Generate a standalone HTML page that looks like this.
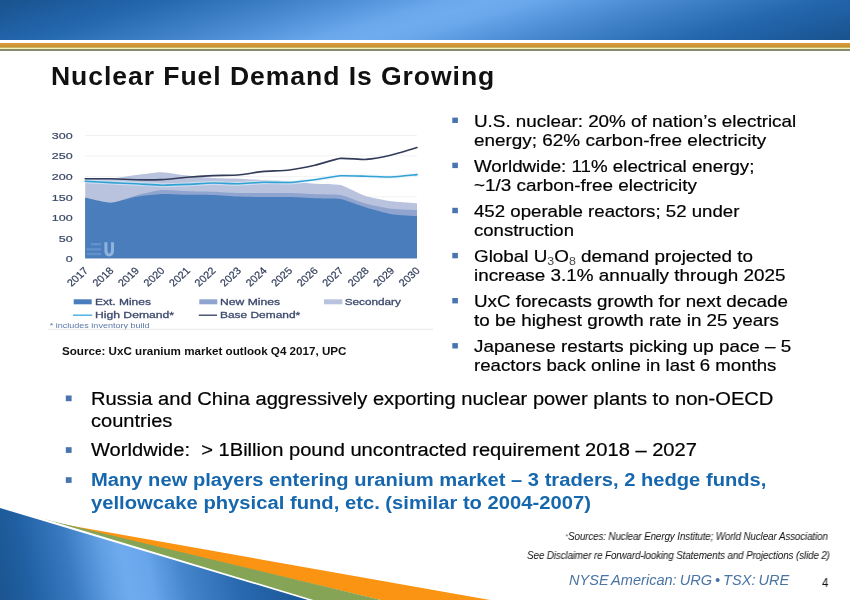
<!DOCTYPE html>
<html><head><meta charset="utf-8">
<style>
html,body{margin:0;padding:0;}
body{width:850px;height:600px;position:relative;overflow:hidden;background:#fff;font-family:"Liberation Sans",sans-serif;color:#111;}
.abs{position:absolute;white-space:nowrap;}
.t{transform-origin:0 0;will-change:transform;}
#hdr{left:0;top:0;width:850px;height:40px;background:linear-gradient(163.5deg,#19528d 0%,#1e5c9e 8%,#2468ae 17%,#4a8bd2 34%,#69a6ea 45%,#6fabef 50%,#69a6ea 55%,#4a8bd2 66%,#2468ae 83%,#1e5c9e 92%,#19528d 100%);}
#gold{left:0;top:39px;width:850px;height:13px;background:linear-gradient(to bottom,rgba(255,255,255,0) 0,rgba(255,255,255,0) 0.5px,#fff 0.6px,#fff 4px,#d99a3c 4.4px,#d09130 7px,#b8963c 8.4px,#f7f2b8 8.7px,#f7f2b8 10.3px,#86896a 10.5px,#86896a 11.7px,#fff 11.9px);}
.bq{position:absolute;background:#4f7cb8;}
sub{font-size:66%;vertical-align:baseline;position:relative;top:3px;color:#4a4a4a;-webkit-text-stroke:0;}
</style></head><body>
<div id="hdr" class="abs"></div>
<div id="gold" class="abs"></div>

<div id="title" class="abs t" style="left:51.0px;top:60.6px;font-size:25.2px;font-weight:bold;line-height:30px;letter-spacing:0.9px;transform:scaleX(1.0534);">Nuclear Fuel Demand Is Growing</div>
<div id="r1" class="abs t" style="left:474.1px;top:111.7px;font-size:17px;line-height:19px;color:#000;-webkit-text-stroke:0.2px #000;transform:scaleX(1.1082);">U.S. nuclear: 20% of nation’s electrical</div>
<div id="r2" class="abs t" style="left:474.1px;top:130.7px;font-size:17px;line-height:19px;color:#000;-webkit-text-stroke:0.2px #000;transform:scaleX(1.1123);">energy; 62% carbon-free electricity</div>
<div id="r3" class="abs t" style="left:474.1px;top:156.8px;font-size:17px;line-height:19px;color:#000;-webkit-text-stroke:0.2px #000;transform:scaleX(1.1018);">Worldwide: 11% electrical energy;</div>
<div id="r4" class="abs t" style="left:474.1px;top:175.8px;font-size:17px;line-height:19px;color:#000;-webkit-text-stroke:0.2px #000;transform:scaleX(1.1101);">~1/3 carbon-free electricity</div>
<div id="r5" class="abs t" style="left:474.1px;top:201.9px;font-size:17px;line-height:19px;color:#000;-webkit-text-stroke:0.2px #000;transform:scaleX(1.0969);">452 operable reactors; 52 under</div>
<div id="r6" class="abs t" style="left:474.1px;top:220.9px;font-size:17px;line-height:19px;color:#000;-webkit-text-stroke:0.2px #000;transform:scaleX(1.0908);">construction</div>
<div id="r7" class="abs t" style="left:474.1px;top:247.0px;font-size:17px;line-height:19px;color:#000;-webkit-text-stroke:0.2px #000;transform:scaleX(1.1085);">Global U<sub>3</sub>O<sub>8</sub> demand projected to</div>
<div id="r8" class="abs t" style="left:474.1px;top:266.0px;font-size:17px;line-height:19px;color:#000;-webkit-text-stroke:0.2px #000;transform:scaleX(1.1094);">increase 3.1% annually through 2025</div>
<div id="r9" class="abs t" style="left:474.1px;top:292.1px;font-size:17px;line-height:19px;color:#000;-webkit-text-stroke:0.2px #000;transform:scaleX(1.1036);">UxC forecasts growth for next decade</div>
<div id="r10" class="abs t" style="left:474.1px;top:311.1px;font-size:17px;line-height:19px;color:#000;-webkit-text-stroke:0.2px #000;transform:scaleX(1.1087);">to be highest growth rate in 25 years</div>
<div id="r11" class="abs t" style="left:474.1px;top:337.2px;font-size:17px;line-height:19px;color:#000;-webkit-text-stroke:0.2px #000;transform:scaleX(1.1078);">Japanese restarts picking up pace – 5</div>
<div id="r12" class="abs t" style="left:474.1px;top:356.2px;font-size:17px;line-height:19px;color:#000;-webkit-text-stroke:0.2px #000;transform:scaleX(1.0960);">reactors back online in last 6 months</div>
<div id="b1" class="abs t" style="left:90.6px;top:387.6px;font-size:18px;line-height:22px;color:#000;-webkit-text-stroke:0.2px #000;transform:scaleX(1.1181);">Russia and China aggressively exporting nuclear power plants to non-OECD</div>
<div id="b2" class="abs t" style="left:90.6px;top:409.9px;font-size:18px;line-height:22px;color:#000;-webkit-text-stroke:0.2px #000;transform:scaleX(1.1144);">countries</div>
<div id="b3" class="abs t" style="left:90.6px;top:439px;font-size:18px;line-height:22px;color:#000;-webkit-text-stroke:0.2px #000;transform:scaleX(1.1168);">Worldwide:&nbsp; &gt; 1Billion pound uncontracted requirement 2018 – 2027</div>
<div id="b4" class="abs t" style="left:90.6px;top:469px;font-size:18px;line-height:22px;color:#1667ad;font-weight:bold;transform:scaleX(1.1197);">Many new players entering uranium market – 3 traders, 2 hedge funds,</div>
<div id="b5" class="abs t" style="left:90.6px;top:492px;font-size:18px;line-height:22px;color:#1667ad;font-weight:bold;transform:scaleX(1.1231);">yellowcake physical fund, etc. (similar to 2004-2007)</div>
<div id="src" class="abs t" style="left:62px;top:345.0px;font-size:11.4px;font-weight:bold;line-height:13px;transform:scaleX(1.0215);">Source: UxC uranium market outlook Q4 2017, UPC</div>
<div id="f1" class="abs t" style="left:565.2px;top:530.5px;font-size:10px;font-style:italic;line-height:12px;letter-spacing:-0.15px;transform:scaleX(0.9902);"><span style="color:#777;font-size:8px;position:relative;top:-1px">*</span>Sources: Nuclear Energy Institute; World Nuclear Association</div>
<div id="f2" class="abs t" style="left:527.2px;top:549.7px;font-size:10px;font-style:italic;line-height:12px;letter-spacing:-0.15px;transform:scaleX(0.9885);">See Disclaimer re Forward-looking Statements and Projections (slide 2)</div>
<div id="f3" class="abs t" style="left:568.6px;top:571.6px;font-size:13.8px;font-style:italic;line-height:18px;color:#4a74a4;word-spacing:-1px;transform:scaleX(1.0555);">NYSE American: URG • TSX: URE</div>
<div id="f4" class="abs t" style="left:822px;top:574.6px;font-size:13px;line-height:15px;transform:scaleX(0.8847);">4</div>
<svg class="abs" style="left:0;top:0" width="850" height="600" viewBox="0 0 850 600">
<rect x="452.3" y="117.6" width="5.6" height="5.4" fill="#4875b0"/>
<rect x="452.3" y="162.7" width="5.6" height="5.4" fill="#4875b0"/>
<rect x="452.3" y="207.8" width="5.6" height="5.4" fill="#4875b0"/>
<rect x="452.3" y="252.9" width="5.6" height="5.4" fill="#4875b0"/>
<rect x="452.3" y="298.0" width="5.6" height="5.4" fill="#4875b0"/>
<rect x="452.3" y="343.1" width="5.6" height="5.4" fill="#4875b0"/>
<rect x="65.8" y="395.5" width="5.8" height="5.7" fill="#4875b0"/>
<rect x="65.8" y="447.2" width="5.8" height="5.7" fill="#4875b0"/>
<rect x="65.8" y="477.2" width="5.8" height="5.7" fill="#4875b0"/>
</svg>
<svg class="abs" id="chart" style="left:40px;top:115px;will-change:transform;filter:blur(0.45px)" width="400" height="220" viewBox="40 115 400 220" font-family="Liberation Sans, sans-serif">
<line x1="85" x2="417" y1="258.2" y2="258.2" stroke="#f2f2f2" stroke-width="1"/>
<line x1="85" x2="417" y1="237.8" y2="237.8" stroke="#f2f2f2" stroke-width="1"/>
<line x1="85" x2="417" y1="217.3" y2="217.3" stroke="#f2f2f2" stroke-width="1"/>
<line x1="85" x2="417" y1="196.8" y2="196.8" stroke="#f2f2f2" stroke-width="1"/>
<line x1="85" x2="417" y1="176.4" y2="176.4" stroke="#f2f2f2" stroke-width="1"/>
<line x1="85" x2="417" y1="155.9" y2="155.9" stroke="#f2f2f2" stroke-width="1"/>
<line x1="85" x2="417" y1="135.5" y2="135.5" stroke="#f2f2f2" stroke-width="1"/>
<path d="M85.2,258.2 L85.2,178.2 C87.5,178.2 106.1,178.9 110.7,178.6 C115.3,178.3 131.7,175.6 136.2,175.0 C140.8,174.4 157.2,172.1 161.8,172.2 C166.4,172.3 182.7,175.1 187.3,175.6 C191.9,176.1 208.2,177.7 212.8,178.0 C217.4,178.3 233.7,178.5 238.3,178.7 C242.9,178.9 259.3,179.8 263.9,180.0 C268.5,180.2 284.8,180.9 289.4,181.2 C294.0,181.5 310.3,183.4 314.9,183.7 C319.5,184.0 335.8,183.9 340.4,185.0 C345.0,186.1 361.4,194.7 366.0,196.2 C370.5,197.7 386.9,200.6 391.5,201.2 C396.1,201.8 414.7,203.0 417.0,203.2 L417.0,258.2 Z" fill="#b9c3dd"/>
<path d="M85.2,258.2 L85.2,197.8 C87.5,198.2 106.1,203.0 110.7,202.8 C115.3,202.6 131.7,196.5 136.2,195.4 C140.8,194.3 157.2,190.5 161.8,190.1 C166.4,189.7 182.7,191.1 187.3,191.2 C191.9,191.3 208.2,191.5 212.8,191.7 C217.4,191.9 233.7,192.9 238.3,193.0 C242.9,193.1 259.3,193.0 263.9,193.0 C268.5,193.0 284.8,192.9 289.4,193.0 C294.0,193.1 310.3,194.0 314.9,194.2 C319.5,194.4 335.8,194.1 340.4,195.0 C345.0,195.9 361.4,202.5 366.0,203.7 C370.5,204.9 386.9,208.1 391.5,208.7 C396.1,209.3 414.7,209.9 417.0,210.0 L417.0,258.2 Z" fill="#8fa4cf"/>
<path d="M85.2,258.2 L85.2,197.8 C87.5,198.2 106.1,202.9 110.7,202.8 C115.3,202.7 131.7,197.6 136.2,196.8 C140.8,196.0 157.2,194.2 161.8,194.0 C166.4,193.8 182.7,194.7 187.3,194.8 C191.9,194.9 208.2,194.8 212.8,195.0 C217.4,195.2 233.7,196.3 238.3,196.5 C242.9,196.7 259.3,197.0 263.9,197.0 C268.5,197.0 284.8,196.9 289.4,197.0 C294.0,197.1 310.3,198.0 314.9,198.2 C319.5,198.4 335.8,198.2 340.4,199.0 C345.0,199.8 361.4,206.1 366.0,207.5 C370.5,208.9 386.9,213.5 391.5,214.3 C396.1,215.1 414.7,216.0 417.0,216.2 L417.0,258.2 Z" fill="#4a7dbc"/>
<path d="M85.2,181.2 C87.5,181.3 106.1,182.4 110.7,182.6 C115.3,182.8 131.7,183.6 136.2,183.8 C140.8,184.0 157.2,185.1 161.8,185.2 C166.4,185.3 182.7,184.6 187.3,184.4 C191.9,184.2 208.2,183.1 212.8,183.0 C217.4,182.9 233.7,183.9 238.3,183.8 C242.9,183.7 259.3,182.3 263.9,182.2 C268.5,182.1 284.8,182.7 289.4,182.5 C294.0,182.3 310.3,180.4 314.9,179.8 C319.5,179.2 335.8,176.1 340.4,175.8 C345.0,175.5 361.4,176.1 366.0,176.2 C370.5,176.3 386.9,177.1 391.5,177.0 C396.1,176.9 414.7,174.8 417.0,174.6" fill="none" stroke="rgba(225,240,252,0.55)" stroke-width="4" stroke-linejoin="round" stroke-linecap="round"/>
<path d="M85.2,181.2 C87.5,181.3 106.1,182.4 110.7,182.6 C115.3,182.8 131.7,183.6 136.2,183.8 C140.8,184.0 157.2,185.1 161.8,185.2 C166.4,185.3 182.7,184.6 187.3,184.4 C191.9,184.2 208.2,183.1 212.8,183.0 C217.4,182.9 233.7,183.9 238.3,183.8 C242.9,183.7 259.3,182.3 263.9,182.2 C268.5,182.1 284.8,182.7 289.4,182.5 C294.0,182.3 310.3,180.4 314.9,179.8 C319.5,179.2 335.8,176.1 340.4,175.8 C345.0,175.5 361.4,176.1 366.0,176.2 C370.5,176.3 386.9,177.1 391.5,177.0 C396.1,176.9 414.7,174.8 417.0,174.6" fill="none" stroke="#30a2d4" stroke-width="1.6" stroke-linejoin="round" stroke-linecap="round"/>
<path d="M85.2,178.7 C87.5,178.7 106.1,178.7 110.7,178.8 C115.3,178.9 131.7,179.7 136.2,179.8 C140.8,179.9 157.2,179.8 161.8,179.6 C166.4,179.4 182.7,177.6 187.3,177.2 C191.9,176.8 208.2,175.8 212.8,175.6 C217.4,175.4 233.7,175.4 238.3,175.0 C242.9,174.6 259.3,171.8 263.9,171.4 C268.5,171.0 284.8,170.6 289.4,170.0 C294.0,169.4 310.3,166.2 314.9,165.2 C319.5,164.2 335.8,158.9 340.4,158.4 C345.0,157.9 361.4,159.7 366.0,159.4 C370.5,159.1 386.9,156.1 391.5,155.0 C396.1,153.9 414.7,148.3 417.0,147.6" fill="none" stroke="#323c58" stroke-width="1.6" stroke-linejoin="round" stroke-linecap="round"/>
<text transform="translate(72.6,262.3) scale(1.36,1)" text-anchor="end" font-size="9.2" fill="#3b4865" stroke="#3b4865" stroke-width="0.2">0</text>
<text transform="translate(72.6,241.7) scale(1.36,1)" text-anchor="end" font-size="9.2" fill="#3b4865" stroke="#3b4865" stroke-width="0.2">50</text>
<text transform="translate(72.6,221.1) scale(1.36,1)" text-anchor="end" font-size="9.2" fill="#3b4865" stroke="#3b4865" stroke-width="0.2">100</text>
<text transform="translate(72.6,200.6) scale(1.36,1)" text-anchor="end" font-size="9.2" fill="#3b4865" stroke="#3b4865" stroke-width="0.2">150</text>
<text transform="translate(72.6,180.0) scale(1.36,1)" text-anchor="end" font-size="9.2" fill="#3b4865" stroke="#3b4865" stroke-width="0.2">200</text>
<text transform="translate(72.6,159.4) scale(1.36,1)" text-anchor="end" font-size="9.2" fill="#3b4865" stroke="#3b4865" stroke-width="0.2">250</text>
<text transform="translate(72.6,138.8) scale(1.36,1)" text-anchor="end" font-size="9.2" fill="#3b4865" stroke="#3b4865" stroke-width="0.2">300</text>
<text transform="translate(88.8,271.4) scale(1.1,1) rotate(-45)" text-anchor="end" font-size="10" fill="#333f5c" stroke="#333f5c" stroke-width="0.2">2017</text>
<text transform="translate(114.3,271.4) scale(1.1,1) rotate(-45)" text-anchor="end" font-size="10" fill="#333f5c" stroke="#333f5c" stroke-width="0.2">2018</text>
<text transform="translate(139.8,271.4) scale(1.1,1) rotate(-45)" text-anchor="end" font-size="10" fill="#333f5c" stroke="#333f5c" stroke-width="0.2">2019</text>
<text transform="translate(165.4,271.4) scale(1.1,1) rotate(-45)" text-anchor="end" font-size="10" fill="#333f5c" stroke="#333f5c" stroke-width="0.2">2020</text>
<text transform="translate(190.9,271.4) scale(1.1,1) rotate(-45)" text-anchor="end" font-size="10" fill="#333f5c" stroke="#333f5c" stroke-width="0.2">2021</text>
<text transform="translate(216.4,271.4) scale(1.1,1) rotate(-45)" text-anchor="end" font-size="10" fill="#333f5c" stroke="#333f5c" stroke-width="0.2">2022</text>
<text transform="translate(241.9,271.4) scale(1.1,1) rotate(-45)" text-anchor="end" font-size="10" fill="#333f5c" stroke="#333f5c" stroke-width="0.2">2023</text>
<text transform="translate(267.5,271.4) scale(1.1,1) rotate(-45)" text-anchor="end" font-size="10" fill="#333f5c" stroke="#333f5c" stroke-width="0.2">2024</text>
<text transform="translate(293.0,271.4) scale(1.1,1) rotate(-45)" text-anchor="end" font-size="10" fill="#333f5c" stroke="#333f5c" stroke-width="0.2">2025</text>
<text transform="translate(318.5,271.4) scale(1.1,1) rotate(-45)" text-anchor="end" font-size="10" fill="#333f5c" stroke="#333f5c" stroke-width="0.2">2026</text>
<text transform="translate(344.0,271.4) scale(1.1,1) rotate(-45)" text-anchor="end" font-size="10" fill="#333f5c" stroke="#333f5c" stroke-width="0.2">2027</text>
<text transform="translate(369.6,271.4) scale(1.1,1) rotate(-45)" text-anchor="end" font-size="10" fill="#333f5c" stroke="#333f5c" stroke-width="0.2">2028</text>
<text transform="translate(395.1,271.4) scale(1.1,1) rotate(-45)" text-anchor="end" font-size="10" fill="#333f5c" stroke="#333f5c" stroke-width="0.2">2029</text>
<text transform="translate(420.6,271.4) scale(1.1,1) rotate(-45)" text-anchor="end" font-size="10" fill="#333f5c" stroke="#333f5c" stroke-width="0.2">2030</text>
<path d="M104.4,242.3 L104.4,251 Q104.6,256.4 109.2,256.4 Q113.8,256.4 114,251 L114,242.3 L111,242.3 L111,250.5 Q110.8,253.4 109.2,253.4 Q107.6,253.4 107.4,250.5 L107.4,242.3 Z" fill="#8fb3de"/>
<rect x="91" y="243" width="10" height="2.4" fill="#6391cb"/><rect x="86.5" y="248.2" width="14.5" height="2.4" fill="#6391cb"/><rect x="87" y="252.8" width="14" height="2.4" fill="#6391cb"/>
<rect x="73.7" y="299.3" width="18" height="5" fill="#4a7dbc"/>
<rect x="199.3" y="299.3" width="18" height="5" fill="#8fa4cf"/>
<rect x="324" y="299.3" width="18.4" height="5" fill="#b9c3dd"/>
<line x1="73" x2="92.2" y1="315.2" y2="315.2" stroke="#35a9de" stroke-width="1.3"/>
<line x1="198.8" x2="217" y1="315.2" y2="315.2" stroke="#2c3b5d" stroke-width="1.3"/>
<text id="l1" transform="translate(95.0,304.7) scale(1.29,1)" font-size="9.3" fill="#3d4b6e" stroke="#3d4b6e" stroke-width="0.3">Ext. Mines</text>
<text id="l2" transform="translate(220.0,304.7) scale(1.31,1)" font-size="9.3" fill="#3d4b6e" stroke="#3d4b6e" stroke-width="0.3">New Mines</text>
<text id="l3" transform="translate(344.7,304.7) scale(1.265,1)" font-size="9.3" fill="#3d4b6e" stroke="#3d4b6e" stroke-width="0.3">Secondary</text>
<text id="l4" transform="translate(95.0,318.0) scale(1.308,1)" font-size="9.3" fill="#3d4b6e" stroke="#3d4b6e" stroke-width="0.3">High Demand*</text>
<text id="l5" transform="translate(220.0,318.0) scale(1.282,1)" font-size="9.3" fill="#3d4b6e" stroke="#3d4b6e" stroke-width="0.3">Base Demand*</text>
<text id="l6" transform="translate(49.7,327.7) scale(1.37,1)" font-size="6.6" fill="#5a78a8">* includes inventory build</text>
<line x1="48" x2="433" y1="329.3" y2="329.3" stroke="#e6e6e6" stroke-width="1"/>
</svg>
<svg class="abs" style="left:0;top:500px" width="520" height="100" viewBox="0 500 520 100">
<defs>
<linearGradient id="tg" gradientUnits="userSpaceOnUse" x1="0" y1="600" x2="294" y2="541.2">
<stop offset="0" stop-color="#1b5490"/><stop offset="0.117" stop-color="#2161a4"/><stop offset="0.25" stop-color="#3a7ac0"/><stop offset="0.36" stop-color="#609ee2"/><stop offset="0.427" stop-color="#6eabee"/><stop offset="0.507" stop-color="#68a5ea"/><stop offset="0.617" stop-color="#4585cc"/><stop offset="0.783" stop-color="#2a6ab0"/><stop offset="0.967" stop-color="#1c599a"/>
</linearGradient>
</defs>
<polygon points="53,522.5 490,600 381,600" fill="#fb9412"/>
<polygon points="37,517.5 381,600 309,600" fill="#85a456"/>
<polygon points="0,505.6 313.5,600 0,600" fill="#ffffff"/>
<polygon points="0,508 308,600 0,600" fill="url(#tg)"/>
</svg>
</body></html>
